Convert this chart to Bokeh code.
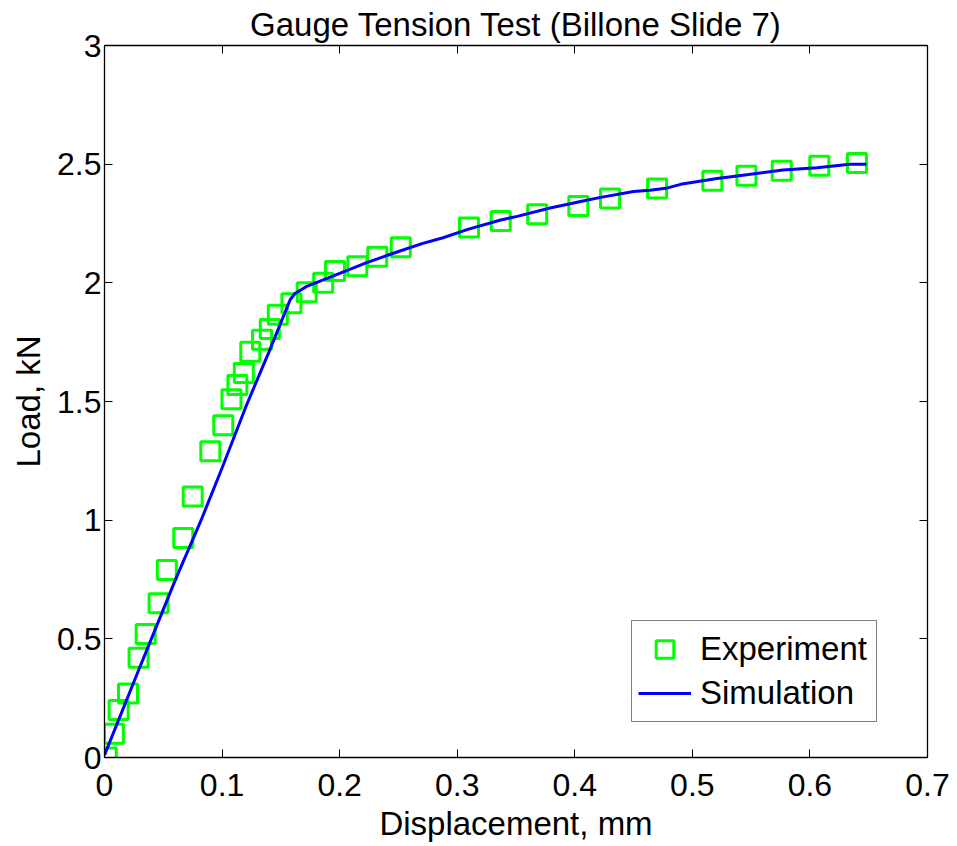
from bokeh.plotting import figure
from bokeh.models import (LinearAxis, FixedTicker, CustomJSTickFormatter, Range1d,
                          Legend, LegendItem, ColumnDataSource, CustomLabelingPolicy)
from bokeh.embed import file_html
from bokeh.resources import INLINE

# ---- data ----
exp_disp = [0.002, 0.008, 0.012, 0.020, 0.029, 0.035, 0.046, 0.053, 0.067, 0.075,
            0.090, 0.101, 0.108, 0.113, 0.1185, 0.124, 0.134, 0.1406, 0.1474, 0.159,
            0.172, 0.186, 0.196, 0.215, 0.232, 0.252, 0.310, 0.337, 0.368, 0.403,
            0.430, 0.470, 0.517, 0.546, 0.576, 0.608, 0.640]
exp_load = [0.0, 0.10, 0.20, 0.27, 0.42, 0.52, 0.65, 0.79, 0.925, 1.10,
            1.29, 1.40, 1.51, 1.57, 1.62, 1.71, 1.76, 1.805, 1.865, 1.914,
            1.96, 2.00, 2.05, 2.07, 2.11, 2.15, 2.233, 2.261, 2.289, 2.324,
            2.355, 2.397, 2.43, 2.451, 2.472, 2.493, 2.505]

sim_disp = [0.0, 0.03, 0.06, 0.083, 0.100, 0.120, 0.140, 0.158, 0.162, 0.172,
            0.185, 0.200, 0.223, 0.240, 0.252, 0.270, 0.288, 0.309, 0.337, 0.351,
            0.379, 0.407, 0.422, 0.450, 0.464, 0.479, 0.490, 0.521, 0.538, 0.577,
            0.606, 0.634, 0.648]
sim_load = [0.01, 0.38, 0.745, 1.01, 1.22, 1.475, 1.71, 1.93, 1.955, 1.985,
            2.01, 2.04, 2.085, 2.115, 2.135, 2.165, 2.19, 2.225, 2.265, 2.28,
            2.315, 2.345, 2.36, 2.385, 2.39, 2.40, 2.415, 2.44, 2.45, 2.475,
            2.485, 2.50, 2.50]

x_ticks = [0, 0.1, 0.2, 0.3, 0.4, 0.5, 0.6, 0.7]
y_ticks = [0, 0.5, 1, 1.5, 2, 2.5, 3]

title_text = "Gauge Tension Test (Billone Slide 7)"
x_label = "Displacement, mm"
y_label = "Load, kN"

FONT = "Liberation Sans"

p = figure(width=957, height=846, output_backend="svg", toolbar_location=None,
           x_range=Range1d(0, 0.7), y_range=Range1d(0, 3),
           min_border_left=104, min_border_right=30, min_border_top=45,
           min_border_bottom=89, title=title_text)
p.background_fill_color = "white"
p.border_fill_color = "white"
p.outline_line_color = "black"
p.xgrid.visible = False
p.ygrid.visible = False

p.title.align = "center"
p.title.text_font = FONT
p.title.text_font_size = "33px"
p.title.text_font_style = "normal"
p.title.text_color = "black"
p.title.standoff = 5

fmt = CustomJSTickFormatter(code="return String(Math.round(tick*10)/10)")
hide_all = CustomLabelingPolicy(code="return new Set()")

def style_axis(ax, ticks, show_labels):
    ax.ticker = FixedTicker(ticks=ticks)
    ax.axis_line_color = "black"
    ax.axis_line_width = 1.3
    ax.major_tick_line_color = "black"
    ax.major_tick_line_width = 1
    ax.major_tick_in = 8
    ax.major_tick_out = 0
    ax.minor_tick_in = 0
    ax.minor_tick_out = 0
    ax.minor_tick_line_color = None
    if show_labels:
        ax.formatter = fmt
        ax.major_label_text_font = FONT
        ax.major_label_text_font_size = "32px"
        ax.major_label_text_color = "black"
        ax.axis_label_text_font = FONT
        ax.axis_label_text_font_size = "33px"
        ax.axis_label_text_font_style = "normal"
        ax.axis_label_text_color = "black"
    else:
        ax.major_label_policy = hide_all
        ax.major_label_text_font_size = "0px"
        ax.major_label_standoff = 0
        ax.axis_label = None

xa = p.xaxis[0]
ya = p.yaxis[0]
xa.axis_label = x_label
ya.axis_label = y_label
style_axis(xa, x_ticks, True)
style_axis(ya, y_ticks, True)
xa.major_label_standoff = 16
xa.axis_label_standoff = 6
ya.major_label_standoff = 3
ya.axis_label_standoff = 7

top = LinearAxis()
right = LinearAxis()
p.add_layout(top, "above")
p.add_layout(right, "right")
style_axis(top, x_ticks, False)
style_axis(right, y_ticks, False)

src_e = ColumnDataSource(dict(x=exp_disp, y=exp_load))
src_s = ColumnDataSource(dict(x=sim_disp, y=sim_load))

sq = p.scatter("x", "y", source=src_e, marker="square", size=19,
               fill_color=None, line_color="#00ff00", line_width=3)
ln = p.line("x", "y", source=src_s, line_color="#0000ff", line_width=3)

legend = Legend(items=[LegendItem(label="Experiment", renderers=[sq]),
                       LegendItem(label="Simulation", renderers=[ln])],
                location=(527, 35), margin=0, padding=6, spacing=0,
                glyph_width=53, glyph_height=44, label_height=44,
                label_width=170, label_standoff=9,
                label_text_font=FONT, label_text_font_size="33px",
                label_text_color="black",
                border_line_color="black", border_line_width=1,
                background_fill_color="white", background_fill_alpha=1)
p.add_layout(legend)

open("out.html", "w").write(file_html(p, INLINE))
